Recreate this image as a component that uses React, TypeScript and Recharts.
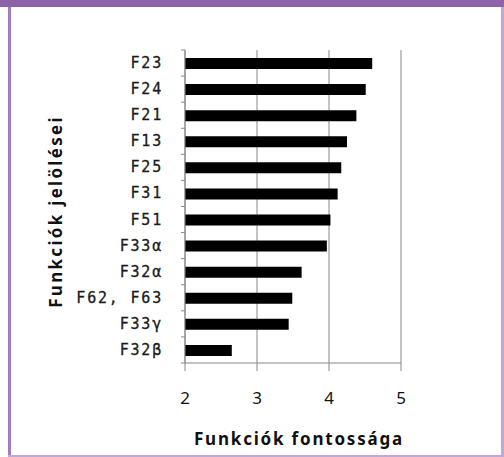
import { BarChart, Bar, XAxis, YAxis, CartesianGrid, Label } from 'recharts';

const categories = ['F23', 'F24', 'F21', 'F13', 'F25', 'F31', 'F51', 'F33α', 'F32α', 'F62, F63', 'F33γ', 'F32β'];
const importance = [4.6, 4.51, 4.38, 4.25, 4.17, 4.12, 4.02, 3.97, 3.62, 3.49, 3.44, 2.65];
const xTicks = [2, 3, 4, 5];

const W = 504;
const H = 457;
const PLOT_TOP = 50;
const PLOT_LEFT = 185;
const PLOT_RIGHT = 401;
const X_AXIS_H = 94;
const band = (H - PLOT_TOP - X_AXIS_H) / categories.length;

const chartData = categories.map((name, i) => ({ name, value: importance[i] }));

function CategoryTick(props: any) {
    const { y, payload, index } = props;
    const top = y - band / 2;
    const bottom = y + band / 2;
    return (
        <g>
            <line x1={PLOT_LEFT - 4} x2={PLOT_LEFT} y1={top} y2={top} stroke="#888" />
            {index === categories.length - 1 && (
                <line x1={PLOT_LEFT - 4} x2={PLOT_LEFT} y1={bottom} y2={bottom} stroke="#888" />
            )}
            <text
                x={PLOT_LEFT - 22}
                y={y}
                textAnchor="end"
                dominantBaseline="central"
                fontFamily="'DejaVu Sans Mono', monospace"
                fontSize={15}
                letterSpacing={1.8}
                fill="#1a1a1a"
                stroke="#1a1a1a"
                strokeWidth={0.3}
            >
                {payload.value}
            </text>
        </g>
    );
}

function YTitle(props: any) {
    const vb = props.viewBox;
    const cy = vb.y + vb.height / 2 + 5;
    return (
        <text
            x={55}
            y={cy}
            transform={`rotate(-90, 55, ${cy})`}
            textAnchor="middle"
            dominantBaseline="central"
            fontFamily="'Noto Sans', sans-serif"
            fontWeight="bold"
            fontSize={17}
            letterSpacing={2.3}
            fill="#111"
        >
            Funkciók jelölései
        </text>
    );
}

export default function App() {
    return (
        <div style={{ position: 'absolute', left: 0, top: 0, width: W, height: H, background: '#fff', overflow: 'hidden' }}>
            <div style={{ position: 'absolute', left: 0, top: 0, width: W, height: 7, background: '#8d62a8' }} />
            <div style={{ position: 'absolute', left: 8, top: 7, width: 3, height: H - 7, background: '#a27cc2' }} />
            <div style={{ position: 'absolute', left: 501, top: 7, width: 3, height: H - 7, background: '#c2a8d8' }} />
            <div style={{ position: 'absolute', left: 8, top: 455, width: W - 8, height: 2, background: '#c2a8d8' }} />
            <div style={{ position: 'absolute', left: 0, top: 0 }}>
                <BarChart
                    width={W}
                    height={H}
                    data={chartData}
                    layout="vertical"
                    margin={{ top: PLOT_TOP, right: W - PLOT_RIGHT, bottom: 0, left: 0 }}
                >
                    <CartesianGrid horizontal={false} stroke="#888" />
                    <XAxis
                        type="number"
                        domain={[2, 5]}
                        ticks={xTicks}
                        stroke="#888"
                        tickSize={8}
                        tickMargin={21}
                        height={X_AXIS_H}
                        tick={{ fill: '#111', fontSize: 17, fontFamily: "'Noto Sans', sans-serif" }}
                    >
                        <Label
                            value="Funkciók fontossága"
                            position="insideBottom"
                            offset={12}
                            dx={6}
                            style={{ fill: '#111', fontSize: 17, fontWeight: 'bold', letterSpacing: 1.8, fontFamily: "'Noto Sans', sans-serif" }}
                        />
                    </XAxis>
                    <YAxis
                        type="category"
                        dataKey="name"
                        width={PLOT_LEFT}
                        stroke="#888"
                        tickLine={false}
                        tick={<CategoryTick />}
                        interval={0}
                    >
                        <Label content={<YTitle />} />
                    </YAxis>
                    <Bar dataKey="value" fill="#000" barSize={11} isAnimationActive={false} />
                </BarChart>
            </div>
        </div>
    );
}
